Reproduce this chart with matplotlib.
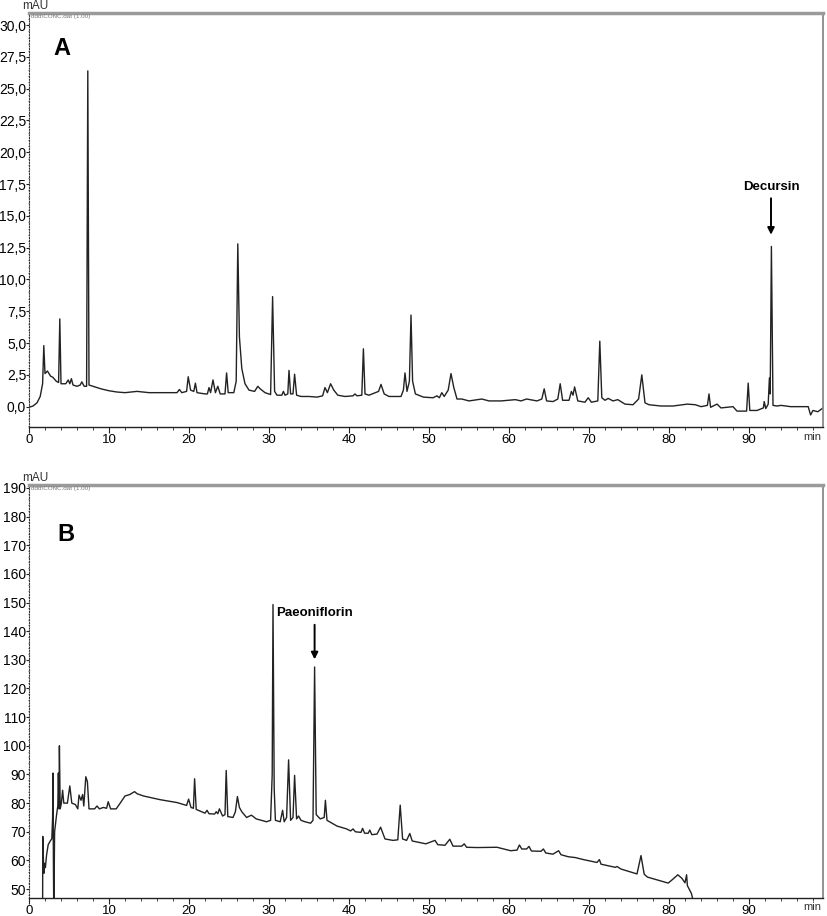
import matplotlib
matplotlib.use('Agg')
import matplotlib.pyplot as plt
from matplotlib.ticker import MultipleLocator, FuncFormatter

plt.rcParams['font.family'] = ['Liberation Sans', 'DejaVu Sans']

# panel A chromatogram (min, mAU)
time_a = [0.0, 0.5, 1.0, 1.4, 1.7, 1.85, 2.0, 2.3, 2.7, 3.0, 3.4, 3.7, 3.85, 4.0,
          4.6, 4.9, 5.1, 5.3, 5.5, 6.0, 6.4, 6.6, 6.9, 7.2, 7.35, 7.5, 8.0, 9.0,
          10.0, 11.0, 12.0, 13.5, 15.0, 17.0, 18.5, 18.8, 19.1, 19.7, 19.9, 20.2,
          20.6, 20.8, 21.0, 22.0, 22.3, 22.5, 22.7, 23.0, 23.3, 23.6, 23.9, 24.5,
          24.7, 24.9, 25.6, 25.9, 26.1, 26.3, 26.6, 27.0, 27.5, 28.2, 28.6, 28.9,
          29.5, 30.2, 30.45, 30.7, 31.0, 31.6, 31.8, 32.0, 32.35, 32.5, 32.7, 33.0,
          33.2, 33.45, 34.0, 35.0, 36.0, 36.7, 37.0, 37.3, 37.7, 38.1, 38.6, 39.5,
          40.5, 40.75, 41.0, 41.6, 41.8, 42.0, 42.5, 43.7, 44.0, 44.4, 45.0, 46.5,
          46.8, 47.0, 47.25, 47.55, 47.75, 47.95, 48.3, 49.3, 50.5, 51.0, 51.3,
          51.6, 51.9, 52.4, 52.75, 53.1, 53.5, 54.1, 55.0, 56.6, 57.5, 59.0, 60.8,
          61.5, 62.2, 63.5, 64.1, 64.4, 64.7, 65.5, 66.1, 66.4, 66.7, 67.5, 67.8,
          68.0, 68.2, 68.6, 69.5, 69.9, 70.3, 71.1, 71.35, 71.6, 72.0, 72.4, 73.0,
          73.6, 74.5, 75.5, 76.2, 76.6, 77.0, 77.5, 79.0, 80.5, 82.3, 83.3, 84.0,
          84.8, 85.0, 85.2, 86.0, 86.5, 88.0, 88.5, 89.7, 89.9, 90.1, 91.0, 91.8,
          91.9, 92.1, 92.4, 92.55, 92.65, 92.8, 93.0, 93.5, 94.0, 95.2, 97.4,
          97.7, 98.0, 98.6, 99.25]
mau_a = [-0.05, 0.05, 0.3, 0.8, 1.8, 4.8, 2.6, 2.8, 2.4, 2.3, 2.0, 1.9, 6.9, 1.8,
         1.8, 2.1, 1.8, 2.2, 1.7, 1.6, 1.7, 1.95, 1.6, 1.6, 26.4, 1.7, 1.6, 1.4,
         1.25, 1.15, 1.1, 1.2, 1.1, 1.1, 1.1, 1.35, 1.1, 1.2, 2.35, 1.3,
         1.2, 1.85, 1.1, 1.0, 1.0, 1.5, 1.1, 2.1, 1.1, 1.6, 1.0, 1.0,
         2.65, 1.1, 1.1, 2.0, 12.8, 5.5, 3.0, 1.8, 1.3, 1.2, 1.6, 1.4,
         1.1, 0.95, 8.65, 1.2, 0.9, 0.9, 1.2, 0.9, 1.0, 2.85, 1.0, 1.0,
         2.55, 0.9, 0.8, 0.8, 0.75, 0.85, 1.5, 1.1, 1.8, 1.3, 0.9, 0.8,
         0.85, 1.0, 0.85, 0.9, 4.55, 1.0, 0.9, 1.2, 1.75, 1.0, 0.8, 0.8,
         1.3, 2.65, 1.2, 2.0, 7.2, 2.0, 1.0, 0.75, 0.7, 0.85, 0.7,
         1.1, 0.8, 1.3, 2.6, 1.5, 0.6, 0.6, 0.45, 0.6, 0.45, 0.45, 0.55,
         0.45, 0.6, 0.45, 0.6, 1.4, 0.45, 0.4, 0.6, 1.8, 0.5, 0.5, 1.2,
         0.9, 1.55, 0.45, 0.35, 0.7, 0.35, 0.45, 5.15, 0.7, 0.5, 0.65, 0.45,
         0.55, 0.2, 0.15, 0.6, 2.5, 0.3, 0.15, 0.05, 0.05, 0.2, 0.15, 0.0,
         0.1, 1.0, -0.05, 0.2, -0.1, 0.0, -0.35, -0.35, 1.85, -0.3, -0.3, -0.1,
         0.4, -0.15, 0.2, 2.25, 1.0, 12.6, 0.1, 0.05, 0.1, 0.0, 0.0,
         -0.65, -0.3, -0.4, -0.1]

# panel B chromatogram (min, mAU)
time_b = [1.70, 1.72, 1.85, 1.95, 2.05, 2.2, 2.4, 2.7, 2.85, 2.95, 3.0, 3.05, 3.1,
          3.2, 3.45, 3.6, 3.67, 3.75, 3.8, 3.9, 4.05, 4.2, 4.35, 4.8, 5.1, 5.35,
          5.8, 6.1, 6.25, 6.5, 6.7, 6.85, 7.1, 7.3, 7.5, 8.2, 8.5, 8.8, 9.3, 9.7,
          9.9, 10.2, 10.9, 11.4, 12.0, 12.6, 13.0, 13.2, 13.5, 14.3, 16.4, 18.5,
          19.7, 19.95, 20.25, 20.55, 20.7, 20.9, 22.0, 22.25, 22.5, 23.2, 23.4,
          23.6, 23.8, 24.2, 24.5, 24.65, 24.85, 25.5, 25.8, 26.05, 26.3, 26.6,
          27.2, 27.8, 28.4, 29.7, 30.2, 30.4, 30.5, 30.65, 30.8, 31.4, 31.7, 31.9,
          32.2, 32.45, 32.7, 33.0, 33.2, 33.45, 33.7, 34.0, 34.5, 35.2, 35.5,
          35.7, 35.9, 36.4, 36.9, 37.05, 37.25, 38.5, 39.7, 40.2, 40.5, 40.8,
          41.5, 41.7, 41.95, 42.4, 42.6, 42.85, 43.5, 43.95, 44.5, 45.5, 46.1,
          46.4, 46.7, 47.2, 47.6, 47.9, 49.6, 50.75, 51.1, 52.0, 52.6, 53.0,
          54.1, 54.4, 54.7, 56.0, 58.5, 60.2, 61.0, 61.3, 61.6, 62.2, 62.5,
          62.8, 64.0, 64.3, 64.6, 65.5, 66.2, 66.5, 67.4, 68.3, 69.3, 71.0,
          71.3, 71.5, 73.3, 73.5, 74.0, 76.0, 76.5, 76.9, 77.3, 79.9, 80.5,
          81.1, 81.6, 82.0, 82.2, 82.3, 82.8, 83.1]
mau_b = [40.0, 68.4, 55.5, 59.0, 57.5, 62.0, 65.5, 67.0, 67.5, 75.0, 90.5, 60.0, 40.0,
         70.0, 76.0, 79.0, 90.5, 78.0, 100.0, 78.0, 80.0, 84.5, 80.0, 80.0, 86.0, 80.0,
         79.5, 78.0, 82.8, 81.0, 83.0, 79.0, 89.2, 87.5, 78.0, 78.0, 79.0, 78.0, 78.5, 78.2,
         80.5, 78.0, 78.0, 80.0, 82.5, 83.0, 83.7, 84.0, 83.3, 82.5, 81.2, 80.2,
         79.2, 81.4, 78.5, 78.2, 88.5, 77.8, 76.5, 77.5, 76.3, 76.2, 77.0,
         76.3, 78.0, 75.5, 76.0, 91.4, 75.3, 75.0, 77.0, 82.3, 78.5, 77.0,
         75.0, 75.8, 74.5, 73.5, 74.0, 90.0, 149.3, 85.0, 74.0, 73.5, 77.5, 73.5,
         75.0, 95.1, 74.0, 75.0, 89.7, 74.5, 75.5, 74.0, 73.5, 73.0, 74.0,
         127.5, 76.0, 74.5, 75.0, 81.0, 74.0, 72.0, 71.0, 70.3, 71.0, 70.0,
         69.8, 71.2, 69.5, 69.5, 70.6, 69.0, 69.2, 71.6, 67.5, 67.0, 67.2,
         79.3, 67.5, 67.0, 69.4, 66.8, 65.8, 67.0, 65.5, 65.3, 67.4, 65.0,
         65.0, 65.8, 64.6, 64.5, 64.6, 63.4, 63.6, 65.4, 64.0, 64.0, 64.9,
         63.3, 63.2, 64.0, 62.6, 62.2, 63.4, 62.0, 61.3, 61.0, 60.3, 59.3,
         60.3, 58.7, 57.6, 57.9, 57.0, 55.3, 61.7, 55.2, 54.2, 52.1, 53.5,
         55.0, 53.8, 52.2, 55.0, 51.2, 48.5, 45.0]

fig = plt.figure(figsize=(8.27, 9.16), dpi=100)
ax_a = fig.add_axes([29 / 827, 1 - 427 / 916, 794 / 827, 414 / 916])
ax_b = fig.add_axes([29 / 827, 1 - 898 / 916, 794 / 827, 413 / 916])

comma = FuncFormatter(lambda v, p: ('%.1f' % v).replace('.', ','))


def style(ax, ylo, yhi, ystep, ytop_px, min_px):
    ax.set_xlim(0, 99.25)
    ax.set_ylim(ylo, yhi)
    ax.xaxis.set_major_locator(MultipleLocator(10))
    ax.xaxis.set_minor_locator(MultipleLocator(2))
    ax.yaxis.set_major_locator(MultipleLocator(ystep))
    ax.yaxis.set_minor_locator(MultipleLocator(ystep / 5))
    ax.tick_params(axis='x', which='major', length=4, width=0.8, pad=1,
                   labelsize=9.5, color='#222222')
    ax.tick_params(axis='x', which='minor', length=2, width=0.6, color='#222222')
    ax.tick_params(axis='y', which='major', length=2, width=0.8, pad=0,
                   labelsize=10, color='#222222')
    ax.tick_params(axis='y', which='minor', length=1, width=0.6, color='#555555')
    ax.spines['top'].set_color('#9a9a9a')
    ax.spines['top'].set_linewidth(2.5)
    ax.spines['right'].set_color('#8a8a8a')
    ax.spines['right'].set_linewidth(1.3)
    ax.spines['left'].set_linestyle((0, (1, 1.5)))
    ax.spines['left'].set_color('#333333')
    ax.spines['bottom'].set_color('#222222')
    ax.spines['bottom'].set_linewidth(1.0)
    ax.text(0.003, 0.997, 'ddd\\CONC.dat (1.00)', transform=ax.transAxes,
            fontsize=4.5, color='#777777', ha='left', va='top')
    fig.text(821 / 827, 1 - min_px / 916, 'min', fontsize=8,
             color='#333333', ha='right', va='center')
    fig.text(22 / 827, 1 - ytop_px / 916, 'mAU', fontsize=8.5, color='#333333',
             ha='left', va='center')


# Panel A
ax_a.plot(time_a, mau_a, color='#222222', lw=1.0)
style(ax_a, -1.6, 30.95, 2.5, 6, 437)
ax_a.yaxis.set_major_formatter(comma)
ax_a.set_yticks([i * 2.5 for i in range(13)])
ax_a.text(0.042, 0.915, 'A', transform=ax_a.transAxes, fontsize=17,
          fontweight='bold', ha='center', va='center')
ax_a.annotate('', xy=(92.75, 13.3), xytext=(92.75, 16.6),
              arrowprops=dict(arrowstyle='-|>', color='black', lw=1.4,
                              mutation_scale=10))
ax_a.text(92.75, 17.3, 'Decursin', fontsize=9.5, fontweight='bold',
          ha='center', va='center')

# Panel B
ax_b.plot(time_b, mau_b, color='#222222', lw=1.0)
style(ax_b, 46.9, 191, 10, 478, 907)
ax_b.set_yticks(range(50, 191, 10))
ax_b.text(0.046, 0.88, 'B', transform=ax_b.transAxes, fontsize=17,
          fontweight='bold', ha='center', va='center')
ax_b.annotate('', xy=(35.7, 129.2), xytext=(35.7, 143.2),
              arrowprops=dict(arrowstyle='-|>', color='black', lw=1.4,
                              mutation_scale=10))
ax_b.text(35.7, 146.2, 'Paeoniflorin', fontsize=9.5, fontweight='bold',
          ha='center', va='center')

fig.savefig('out.png', dpi=100)
